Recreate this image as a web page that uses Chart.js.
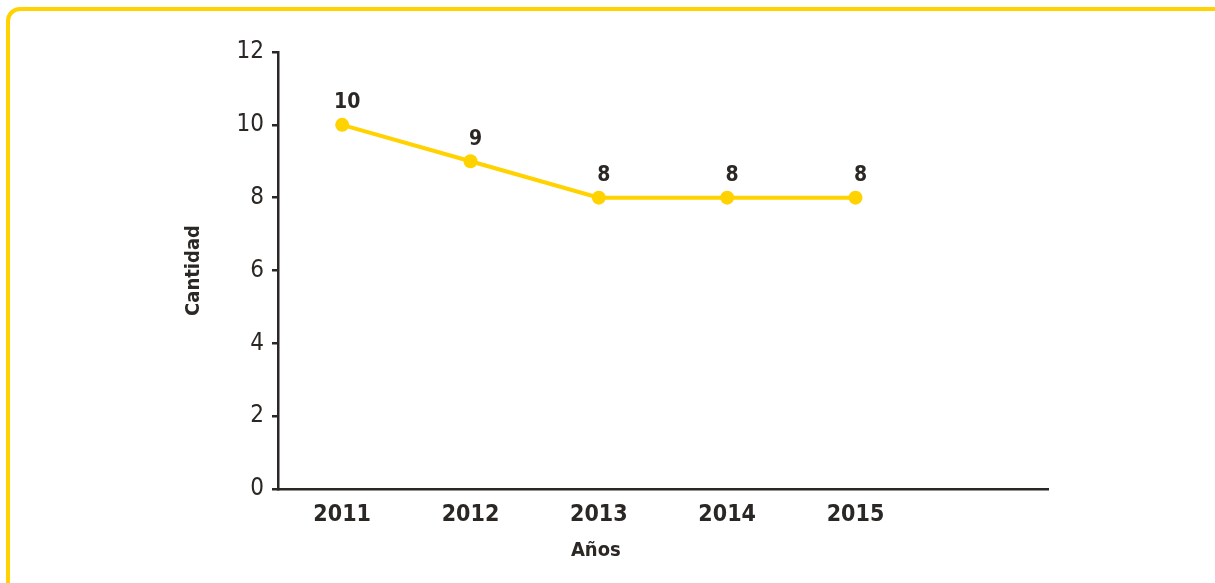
<!DOCTYPE html>
<html>
<head>
<meta charset="utf-8">
<script src="https://cdn.jsdelivr.net/npm/chart.js@4.4.1/dist/chart.umd.min.js"></script>
<style>
  html, body { margin: 0; padding: 0; background: #fff; overflow: hidden; }
  #wrap { position: relative; width: 1215px; height: 583px; }
  #frame { position: absolute; left: 6px; top: 7px; width: 1240px; height: 620px;
           border: 4px solid #FFD200; border-radius: 14px; box-sizing: border-box; }
  #chart { position: absolute; left: 0; top: 0; }
</style>
</head>
<body>
<div id="wrap">
  <div id="frame"></div>
  <canvas id="chart" width="1215" height="583"></canvas>
</div>
<script>
// ── data ─────────────────────────────────────────────
const years = ['2011', '2012', '2013', '2014', '2015'];
const cantidad = [10, 9, 8, 8, 8];
const yTicks = [0, 2, 4, 6, 8, 10, 12];

const categories = [...years, '']; // empty slot keeps the axis running past 2015

const FONT = '"DejaVu Sans Condensed", "Liberation Sans Narrow", sans-serif';
const INK = '#2b2724';
const YELLOW = '#FFD200';

// value labels above each point + axis titles
const labelsPlugin = {
  id: 'labels',
  afterDatasetsDraw(chart) {
    const ctx = chart.ctx;
    const meta = chart.getDatasetMeta(0);
    ctx.save();
    ctx.fillStyle = INK;
    ctx.font = 'bold 21px ' + FONT;
    ctx.textAlign = 'center';
    ctx.textBaseline = 'middle';
    meta.data.forEach((pt, i) => {
      if (cantidad[i] == null) return;
      ctx.fillText(String(cantidad[i]), pt.x + 5, pt.y - 22);
    });

    const { top, bottom } = chart.chartArea;
    const xs = chart.scales.x;
    ctx.font = 'bold 20px ' + FONT;
    ctx.fillText('Años', xs.getPixelForValue(2) - 3, 551);

    ctx.translate(194, (top + bottom) / 2);
    ctx.rotate(-Math.PI / 2);
    ctx.fillText('Cantidad', 0, 0);
    ctx.restore();
  }
};

new Chart(document.getElementById('chart').getContext('2d'), {
  type: 'line',
  data: {
    labels: categories,
    datasets: [{
      data: cantidad,
      borderColor: YELLOW,
      backgroundColor: YELLOW,
      borderWidth: 4,
      pointRadius: 7,
      pointHoverRadius: 7,
      pointBackgroundColor: YELLOW,
      pointBorderWidth: 0,
      tension: 0
    }]
  },
  options: {
    responsive: false,
    animation: false,
    layout: { padding: { left: 200, right: 167, top: 52, bottom: 0 } },
    plugins: { legend: { display: false }, tooltip: { enabled: false } },
    scales: {
      x: {
        offset: true,
        grid: { display: false, drawTicks: false },
        border: { color: INK, width: 2.5 },
        ticks: { color: INK, font: { family: FONT, size: 23, weight: 'bold' }, padding: 12, maxRotation: 0 },
        afterFit: s => { s.height = 94; }
      },
      y: {
        min: 0,
        max: 12,
        afterBuildTicks: s => { s.ticks = yTicks.map(v => ({ value: v })); },
        grid: { drawOnChartArea: false, drawTicks: true, tickLength: 6, color: INK, lineWidth: 2.5 },
        border: { color: INK, width: 2.5 },
        ticks: { color: INK, font: { family: FONT, size: 24 }, padding: 8 },
        afterFit: s => { s.width = 78; }
      }
    }
  },
  plugins: [labelsPlugin]
});
</script>
</body>
</html>
